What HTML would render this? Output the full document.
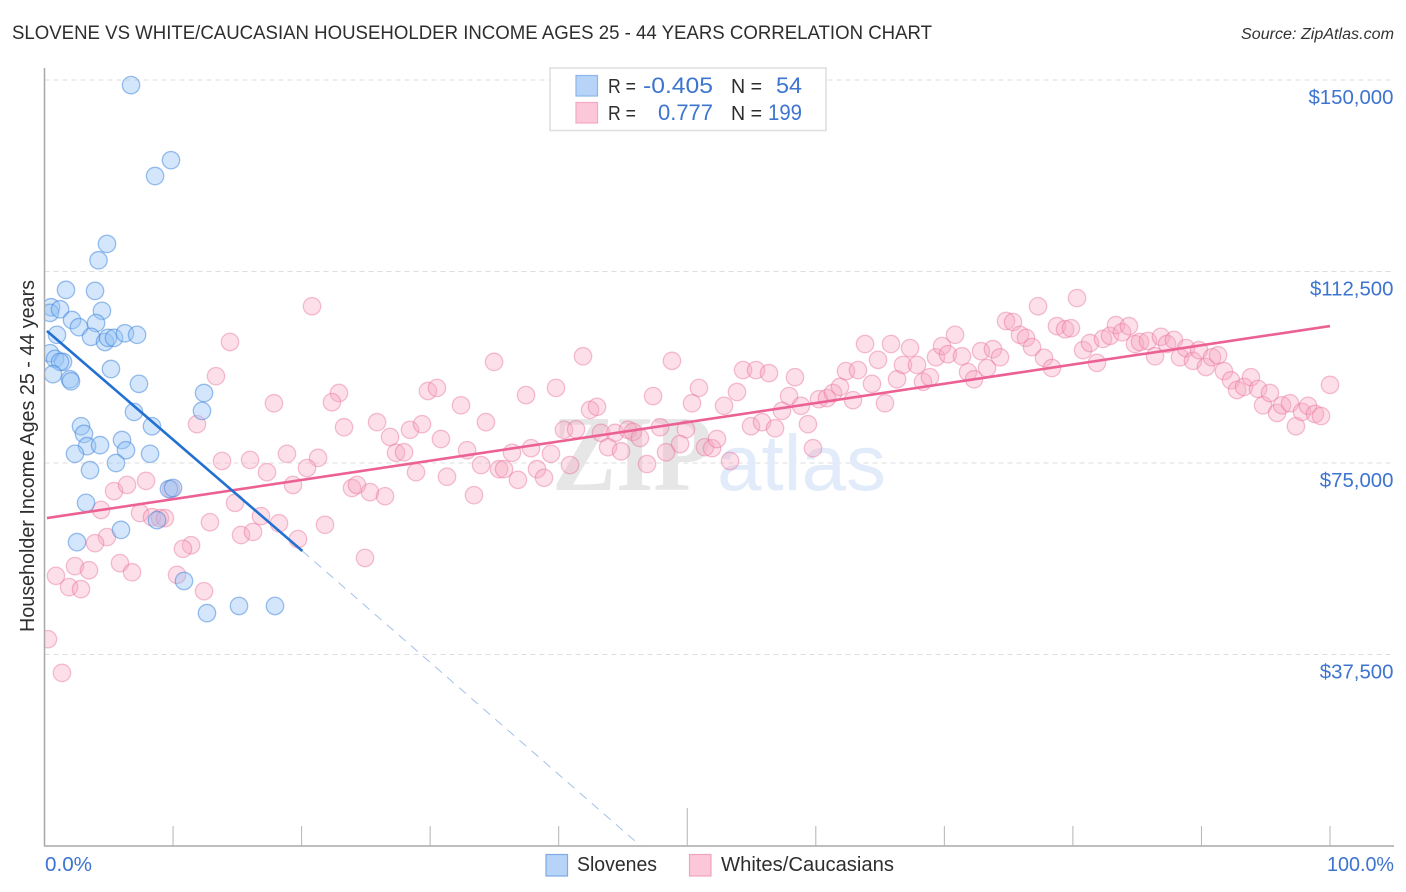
<!DOCTYPE html>
<html lang="en">
<head>
<meta charset="utf-8">
<title>Slovene vs White/Caucasian Householder Income Correlation Chart</title>
<style>
html,body{margin:0;padding:0;background:#fff;}
svg{display:block;}
text{font-family:"Liberation Sans",sans-serif;}
.blue{fill:#3d74cf;}
.dark{fill:#2e2e2e;}
</style>
</head>
<body>
<svg id="chart" xmlns="http://www.w3.org/2000/svg" width="1406" height="892" viewBox="0 0 1406 892">
  <defs>
    <clipPath id="plot-clip"><rect x="44.5" y="60" width="1350" height="786"></rect></clipPath>
  </defs>
  <rect width="1406" height="892" fill="#ffffff"></rect>
  <text x="12" y="39" font-size="19" class="dark" textLength="920" lengthAdjust="spacingAndGlyphs">SLOVENE VS WHITE/CAUCASIAN HOUSEHOLDER INCOME AGES 25 - 44 YEARS CORRELATION CHART</text>
  <text x="1394" y="39" font-size="15.5" font-style="italic" fill="#333" text-anchor="end" textLength="153" lengthAdjust="spacingAndGlyphs">Source: ZipAtlas.com</text>

  <g id="grid"></g>

  <g>
    <text x="552" y="490" font-size="108" font-weight="bold" fill="#e6e6e6" style="font-family:'Liberation Serif',serif" textLength="160" lengthAdjust="spacingAndGlyphs">ZIP</text>
    <text x="717" y="490" font-size="79" fill="#e2ebf9" textLength="169" lengthAdjust="spacingAndGlyphs">atlas</text>
  </g>

  <g id="points-white" clip-path="url(#plot-clip)"></g>
  <g id="points-slovene" clip-path="url(#plot-clip)"></g>
  <g id="trends" clip-path="url(#plot-clip)"></g>

  <g id="axes"></g>
  <g id="y-labels"></g>

  <text transform="translate(34,456) rotate(-90)" font-size="20" class="dark" text-anchor="middle" textLength="352" lengthAdjust="spacingAndGlyphs">Householder Income Ages 25 - 44 years</text>

  <text x="45" y="871" font-size="20" class="blue" textLength="47" lengthAdjust="spacingAndGlyphs">0.0%</text>
  <text x="1394" y="871" font-size="20" class="blue" text-anchor="end" textLength="67" lengthAdjust="spacingAndGlyphs">100.0%</text>

  <g>
    <rect x="550" y="68" width="276" height="62.5" fill="#ffffff" stroke="#dddddd" stroke-width="1.5"></rect>
    <rect x="576" y="75.5" width="21.5" height="20.5" fill="#b7d3f8" stroke="#8db6ea" stroke-width="1.2"></rect>
    <rect x="576" y="102.5" width="21.5" height="20.5" fill="#fcc8d9" stroke="#f3a9c2" stroke-width="1.2"></rect>
    <text x="608" y="93" font-size="20" class="dark" textLength="28" lengthAdjust="spacingAndGlyphs">R =</text>
    <text x="643" y="93" font-size="22" class="blue" textLength="70" lengthAdjust="spacingAndGlyphs">-0.405</text>
    <text x="731" y="93" font-size="20" class="dark" textLength="31" lengthAdjust="spacingAndGlyphs">N =</text>
    <text x="776" y="93" font-size="22" class="blue" textLength="26" lengthAdjust="spacingAndGlyphs">54</text>
    <text x="608" y="120" font-size="20" class="dark" textLength="28" lengthAdjust="spacingAndGlyphs">R =</text>
    <text x="658" y="120" font-size="22" class="blue" textLength="55" lengthAdjust="spacingAndGlyphs">0.777</text>
    <text x="731" y="120" font-size="20" class="dark" textLength="31" lengthAdjust="spacingAndGlyphs">N =</text>
    <text x="768" y="120" font-size="22" class="blue" textLength="34" lengthAdjust="spacingAndGlyphs">199</text>
  </g>

  <g>
    <rect x="546" y="854.5" width="21.5" height="21.5" fill="#b7d3f8" stroke="#7fabe6" stroke-width="1.2"></rect>
    <text x="577" y="871" font-size="20" class="dark" textLength="80" lengthAdjust="spacingAndGlyphs">Slovenes</text>
    <rect x="689.5" y="854.5" width="21.5" height="21.5" fill="#fcc8d9" stroke="#f0a3bd" stroke-width="1.2"></rect>
    <text x="721" y="871" font-size="20" class="dark" textLength="173" lengthAdjust="spacingAndGlyphs">Whites/Caucasians</text>
  </g>
</svg>

<script>
// Percent of population (x) and householder income in $ thousands (y)
const sloveneX = [6.73,9.84,8.60,4.86,4.20,1.67,3.93,0.51,0.43,1.21,4.47,2.14,4.01,2.68,0.97,3.62,4.71,4.94,5.41,6.26,7.20,0.43,0.82,1.44,1.21,0.66,1.98,2.06,5.17,7.35,12.41,12.25,6.96,8.36,2.84,3.07,3.31,4.32,2.37,6.03,6.34,8.21,5.56,3.54,3.23,9.68,10.00,5.95,8.75,2.53,10.85,12.64,15.13,17.93];
const sloveneY = [149.0,134.3,131.2,117.9,114.7,108.9,108.7,105.5,104.4,105.1,104.8,103.0,102.4,101.6,100.1,99.7,98.7,99.5,99.5,100.4,100.1,96.5,95.4,94.8,94.8,92.4,91.4,91.0,93.4,90.5,88.7,85.2,85.0,82.2,82.2,80.7,78.3,78.5,76.8,79.5,77.5,76.8,75.0,73.6,67.2,69.9,70.1,61.9,63.8,59.5,51.9,45.6,47.0,47.0];

const whiteX = [13.34,17.85,22.91,22.36,23.30,11.86,13.81,15.99,18.86,21.28,20.42,17.31,19.33,5.41,6.42,7.90,9.84,4.40,14.82,7.43,8.36,8.98,9.37,12.87,16.84,18.24,21.82,15.29,16.22,19.72,4.86,3.93,11.40,10.77,2.37,3.46,5.87,6.81,0.89,10.31,1.91,2.84,12.41,24.93,0.27,1.36,20.81,14.43,
34.97,41.89,48.81,29.83,30.53,32.40,37.46,39.79,47.34,50.91,50.37,42.44,42.98,25.87,26.88,28.43,29.37,34.34,30.84,27.34,27.97,32.87,28.90,31.31,33.96,36.37,37.85,39.40,35.36,35.75,36.83,38.31,38.86,40.88,33.41,23.92,24.31,25.32,26.49,40.41,41.35,43.29,44.38,45.39,45.78,46.32,43.84,44.85,47.88,49.90,49.44,48.35,46.87,51.38,51.93,52.31,53.33,54.96,55.82,56.83,59.39,59.78,
54.34,55.35,56.36,58.38,53.87,52.86,57.92,57.37,58.85,60.25,60.87,61.34,61.88,62.35,63.28,63.83,64.84,65.85,66.32,64.37,62.89,65.38,66.78,67.87,67.33,68.34,68.88,69.35,69.82,70.28,70.83,71.37,71.84,72.31,72.85,73.32,73.78,74.33,74.80,75.34,75.88,76.35,76.82,77.29,77.75,78.37,
80.32,78.76,79.39,79.85,80.79,81.33,81.87,82.34,82.89,83.35,83.82,84.36,84.83,85.22,85.84,86.39,86.85,87.32,87.86,88.33,88.80,89.34,89.81,90.35,90.82,91.29,91.75,92.30,92.77,93.31,93.85,94.40,94.79,95.33,95.88,96.27,96.89,97.35,97.82,98.29,98.83,99.30,100.00];
const whiteY = [92.0,86.7,88.7,86.9,82.0,82.6,75.4,75.6,76.8,76.0,74.0,73.2,70.7,69.5,70.7,71.5,69.9,65.8,67.2,65.2,64.4,64.2,64.2,63.4,64.6,63.2,62.9,60.9,61.5,60.1,60.5,59.3,58.9,58.2,54.8,54.0,55.4,53.6,52.9,53.1,50.7,50.3,49.9,56.4,40.5,33.9,105.7,98.7,
94.8,95.9,95.0,89.1,89.7,86.3,88.3,89.7,88.1,89.7,86.7,85.4,86.0,83.0,80.1,81.5,82.6,83.0,79.7,77.0,77.1,77.5,73.2,72.3,74.6,77.0,77.9,76.8,73.8,73.8,71.7,73.8,72.1,74.6,68.7,70.1,70.7,69.3,68.5,81.5,81.6,80.9,80.9,81.5,81.1,79.9,78.1,77.3,82.0,81.6,78.7,77.1,74.8,78.1,77.9,79.7,75.4,82.2,83.0,81.8,82.6,77.9,
93.2,93.2,92.6,91.8,88.9,86.2,88.1,85.2,86.2,87.5,87.7,88.7,89.9,93.0,93.2,98.3,95.2,98.3,91.4,90.5,87.3,86.7,94.2,94.2,97.5,90.9,91.8,95.7,97.9,96.3,100.1,95.9,92.8,91.4,96.9,93.6,97.3,95.7,102.8,102.6,100.1,99.5,97.7,105.7,95.6,93.6,
107.3,101.8,101.2,101.4,97.1,98.5,94.6,99.3,99.9,102.0,100.6,101.8,98.3,98.7,98.9,95.9,99.7,98.3,99.1,95.7,97.5,95.0,97.1,93.8,95.7,96.1,93.0,91.2,89.3,89.9,91.8,89.5,86.3,88.7,84.8,86.3,86.7,82.2,85.0,86.2,84.6,84.2,90.3];

// Trend line end points
const sloveneTrendX = [0.19,20.06];
const sloveneTrendY = [100.84,57.77];
const sloveneForecastX = [20.06,46.38];
const sloveneForecastY = [57.77,0];
const whiteTrendX = [0.19,100];
const whiteTrendY = [64.22,101.82];

// Axis ticks
const xTickValues = [0,10,20,30,40,50,60,70,80,90,100];
const yTickValues = [37.5,75,112.5,150];
const yTickLabels = ["$37,500","$75,000","$112,500","$150,000"];

const NS = "http://www.w3.org/2000/svg";
function xScale(v){ return 44.5 + v * 12.855; }
function yScale(v){ return 846 - v * 5.1067; }
function make(tag, attrs){
  const el = document.createElementNS(NS, tag);
  for (const k in attrs) el.setAttribute(k, attrs[k]);
  return el;
}

const gridG = document.getElementById("grid");
yTickValues.forEach(function(v){
  const line = make("line", {x1:44.5, x2:1394, y1:yScale(v), y2:yScale(v), stroke:"#dedede", "stroke-width":1, "stroke-dasharray":"5 4"});
  
  
  gridG.appendChild(line);
});

const whiteG = document.getElementById("points-white");
whiteX.forEach(function(x, i){
  const c = make("circle", {cx:xScale(x), cy:yScale(whiteY[i]), r:8.7, fill:"rgba(248,165,192,0.36)", stroke:"rgba(232,108,152,0.42)", "stroke-width":1.3});
  
  
  whiteG.appendChild(c);
});

const sloveneG = document.getElementById("points-slovene");
sloveneX.forEach(function(x, i){
  const c = make("circle", {cx:xScale(x), cy:yScale(sloveneY[i]), r:8.7, fill:"rgba(150,195,245,0.42)", stroke:"rgba(60,130,220,0.5)", "stroke-width":1.3});
  
  
  sloveneG.appendChild(c);
});

const trendG = document.getElementById("trends");
const whiteLine = make("line", {x1:xScale(whiteTrendX[0]), y1:yScale(whiteTrendY[0]), x2:xScale(whiteTrendX[1]), y2:yScale(whiteTrendY[1]), stroke:"#ec6193", "stroke-width":2.6});


trendG.appendChild(whiteLine);

const sloveneLine = make("line", {x1:xScale(sloveneTrendX[0]), y1:yScale(sloveneTrendY[0]), x2:xScale(sloveneTrendX[1]), y2:yScale(sloveneTrendY[1]), stroke:"#2270d2", "stroke-width":2.6});


trendG.appendChild(sloveneLine);

const forecastLine = make("line", {x1:xScale(sloveneForecastX[0]), y1:yScale(sloveneForecastY[0]), x2:xScale(sloveneForecastX[1]), y2:yScale(sloveneForecastY[1]), stroke:"#a3c0ea", "stroke-width":1, "stroke-dasharray":"9 7"});


trendG.appendChild(forecastLine);

const axesG = document.getElementById("axes");
const yAxis = make("line", {x1:44.5, x2:44.5, y1:68, y2:846, stroke:"#a8a8a8", "stroke-width":1.5});


axesG.appendChild(yAxis);
const xAxis = make("line", {x1:44, x2:1394, y1:846, y2:846, stroke:"#a8a8a8", "stroke-width":1.5});


axesG.appendChild(xAxis);
xTickValues.forEach(function(v){
  if (v === 0) return;
  const top = v === 50 ? 808 : 826;
  const t = make("line", {x1:xScale(v), x2:xScale(v), y1:top, y2:846, stroke:"#b4b4b4", "stroke-width":1});
  
  
  axesG.appendChild(t);
});

const labelG = document.getElementById("y-labels");
yTickValues.forEach(function(v, i){
  const t = make("text", {x:1393.5, y:yScale(v) + 24, "font-size":20.4, "text-anchor":"end", "class":"blue"});
  t.textContent = yTickLabels[i];
  
  
  labelG.appendChild(t);
});
</script>
</body>
</html>
